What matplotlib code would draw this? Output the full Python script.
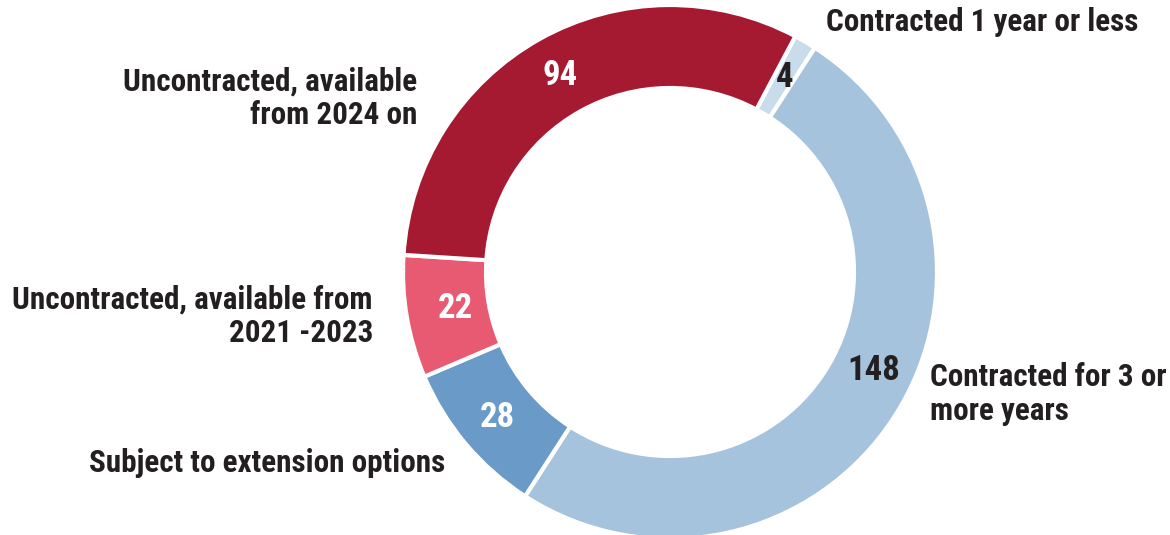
import matplotlib
matplotlib.use("Agg")
import matplotlib.pyplot as plt

# ---------------- DATA ----------------
categories = [
    "Contracted 1 year or less",
    "Contracted for 3 or\nmore years",
    "Subject to extension options",
    "Uncontracted, available from\n2021 -2023",
    "Uncontracted, available\nfrom 2024 on",
]
values = [4, 148, 28, 22, 94]
colors = ["#C9DCEC", "#A5C3DC", "#6A9BC8", "#E75A71", "#A51931"]
number_colors = ["#231F20", "#231F20", "white", "white", "white"]
# --------------------------------------

plt.rcParams["font.family"] = ["Roboto Condensed", "DejaVu Sans"]
plt.rcParams["font.weight"] = "bold"

W, H = 1170, 535
fig = plt.figure(figsize=(W / 100, H / 100), dpi=100)
ax = fig.add_axes([0, 0, 1, 1])

R_OUT, R_IN = 267, 184
CENTER = (670, H - 272)
total = sum(values)

wedges, _, nums = ax.pie(
    values,
    colors=colors,
    startangle=62,
    counterclock=False,
    center=CENTER,
    radius=R_OUT,
    frame=True,
    autopct=lambda p: f"{p * total / 100:.0f}",
    pctdistance=(R_OUT + R_IN) / 2 / R_OUT,
    wedgeprops=dict(width=R_OUT - R_IN, edgecolor="white", linewidth=3),
    textprops=dict(fontsize=25, fontweight="bold"),
)
ax.set_xlim(0, W)
ax.set_ylim(0, H)
ax.set_aspect("equal")
ax.axis("off")

for t, c in zip(nums, number_colors):
    t.set_color(c)
# the 148 label sits a bit higher in the original
x, y = nums[1].get_position()
nums[1].set_position((x + 14, y + 24))
x, y = nums[3].get_position()
nums[3].set_position((x + 8, y + 2))

txt = dict(fontsize=22.4, fontweight="bold", color="#231F20", linespacing=1.15)
ax.text(826, H - 22, categories[0], ha="left", va="center", **txt)
ax.text(930, H - 394, categories[1], ha="left", va="center", **txt)
ax.text(445, H - 463, categories[2], ha="right", va="center", **txt)
ax.text(373, H - 316, categories[3], ha="right", va="center", **txt)
ax.text(417, H - 98, categories[4], ha="right", va="center", **txt)

fig.savefig("out.png", dpi=100)
